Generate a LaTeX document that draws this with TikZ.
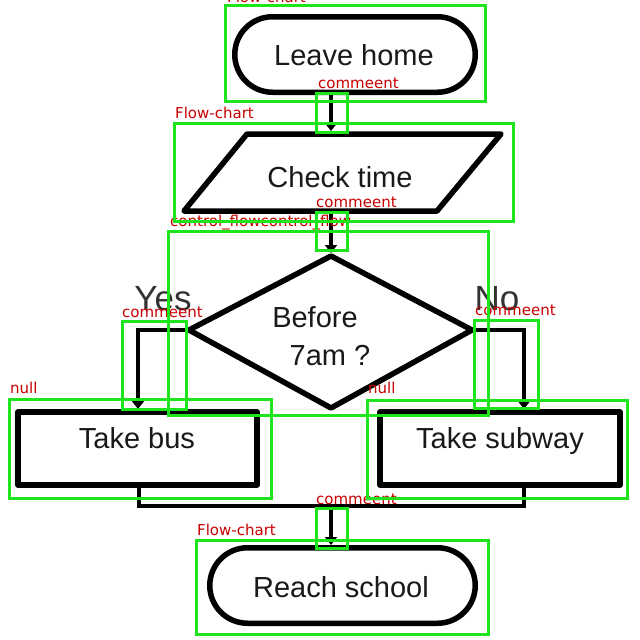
\documentclass[tikz,border=0pt]{standalone}
\usepackage{fontspec}
\setmainfont{Liberation Sans}
\newfontfamily\labfont{DejaVu Sans}
\usetikzlibrary{arrows.meta}
\definecolor{boxgreen}{RGB}{30,228,30}
\definecolor{labred}{RGB}{200,0,0}
\begin{document}
\begin{tikzpicture}[x=1pt,y=-1pt,
  shapeline/.style={line width=5.5pt, line join=round},
  flow/.style={line width=3.5pt, -{Triangle[length=8pt,width=12pt]}},
  plainflow/.style={line width=3.5pt},
  txt/.style={font=\fontsize{29}{32}\selectfont, text=black!90, inner sep=0pt, anchor=base},
  bigtxt/.style={font=\fontsize{35}{38}\selectfont, text=black!80, inner sep=0pt, anchor=base},
  ann/.style={draw=boxgreen, line width=3pt},
  lab/.style={text=labred, font=\labfont\fontsize{15}{15}\selectfont, anchor=base west, inner sep=0pt}]
\useasboundingbox (0,0) rectangle (640,640);
\clip (0,0) rectangle (640,640);
\fill[white] (0,0) rectangle (640,640);

% ---- flowchart shapes ----
% Leave home (terminal)
\draw[shapeline, rounded corners=37.75pt] (234.75,16.75) rectangle (475.25,92.25);
\node[txt] (leave) at (354,65.5) {Leave home};
\coordinate (leaveB) at (331,92);

% Check time (input/output)
\draw[shapeline] (247,134) -- (501,134) -- (437,211) -- (184,211) -- cycle;
\node[txt] (check) at (340,187.5) {Check time};
\coordinate (checkT) at (331,131);
\coordinate (checkB) at (331,211);

% Decision
\coordinate (decT) at (331,256);
\coordinate (decL) at (189,330);
\coordinate (decR) at (472,330);
\coordinate (decB) at (331,408);
\draw[shapeline] (decT) -- (decR) -- (decB) -- (decL) -- cycle;
\coordinate (decIn) at (331,253);
\node[txt] (dec1) at (315,327.5) {Before};
\node[txt] (dec2) at (330,365.5) {7am ?};
\node[bigtxt] (yes) at (163,310.5) {Yes};
\node[bigtxt] (no) at (497,310.5) {No};

% Take bus / Take subway
\draw[shapeline] (18,412) rectangle (257,485);
\node[txt] (bus) at (137,448.5) {Take bus};
\coordinate (busT) at (138,409);
\coordinate (busB) at (139,485);
\draw[shapeline] (380,412) rectangle (620,485);
\node[txt] (subway) at (500,448.5) {Take subway};
\coordinate (subT) at (524,409);
\coordinate (subB) at (524,485);

% Reach school (terminal)
\draw[shapeline, rounded corners=37.75pt] (209.75,547.75) rectangle (475.25,623.25);
\node[txt] (reach) at (341,597.5) {Reach school};
\coordinate (reachT) at (331,545);

% ---- connectors ----
\draw[flow] (leaveB) -- (checkT);
\draw[flow] (checkB) -- (decIn);
\draw[flow] (decL) -| (busT);
\draw[flow] (decR) -| (subT);
\coordinate (joinL) at (139,506);
\coordinate (joinR) at (524,506);
\coordinate (joinM) at (331,506);
\draw[plainflow, line join=miter] (busB) -- (joinL) -- (joinR) -- (subB);
\draw[flow] (joinM) -- (reachT);

% ---- annotation labels ----
\node[lab] (l1) at (227,2) {Flow-chart};
\node[lab] (l2) at (318,88) {commeent};
\node[lab] (l3) at (175,118) {Flow-chart};
\node[lab] (l4) at (316,207) {commeent};
\node[lab] (l5) at (170,226) {control\_flowcontrol\_flow};
\node[lab] (l6) at (122,317) {commeent};
\node[lab] (l7) at (475,315) {commeent};
\node[lab] (l8) at (10,393) {null};
\node[lab] (l9) at (368,393) {null};
\node[lab] (l10) at (316,504) {commeent};
\node[lab] (l11) at (197,535) {Flow-chart};

% ---- annotation boxes ----
\draw[ann] (225,5) rectangle (485,101);
\draw[ann] (316,93) rectangle (347,132);
\draw[ann] (174,123) rectangle (513,221);
\draw[ann] (316,212) rectangle (347,250);
\draw[ann] (168,231) rectangle (488,415);
\draw[ann] (122,321) rectangle (186,409);
\draw[ann] (474,320) rectangle (538,408);
\draw[ann] (9,399) rectangle (271,498);
\draw[ann] (367,400) rectangle (627,498);
\draw[ann] (316,508) rectangle (347,548);
\draw[ann] (196,540) rectangle (488,634);
\end{tikzpicture}
\end{document}
